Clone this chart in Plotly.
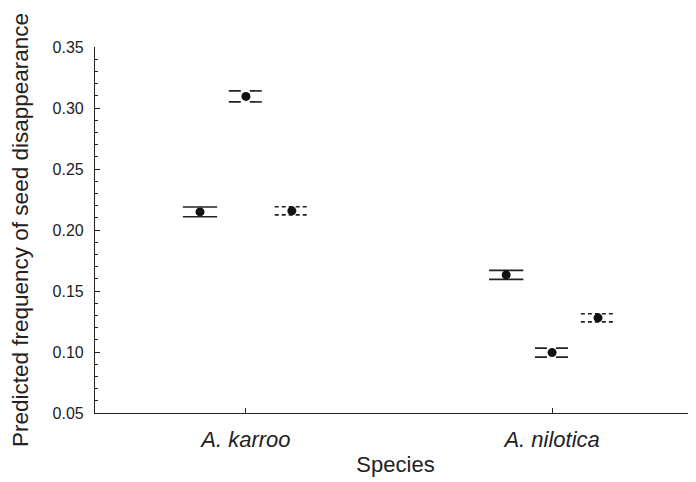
import plotly.graph_objects as go

species = ["A. karroo", "A. nilotica"]
species_pos = [1, 2]
group_offsets = [-0.15, 0.0, 0.15]
group_names = ["Treatment 1", "Treatment 2", "Treatment 3"]
group_dash = ["solid", "12px,9px", "4px,3px"]
means = [
    [0.2148, 0.1632],   # group 1
    [0.3095, 0.0995],   # group 2
    [0.2157, 0.1280],   # group 3
]
errors = [
    [0.0040, 0.0037],
    [0.0045, 0.0037],
    [0.0033, 0.0033],
]
cap_half = 0.056

fig = go.Figure()
for g in range(3):
    xs = [p + group_offsets[g] for p in species_pos]
    cx, cy = [], []
    for x, m, e in zip(xs, means[g], errors[g]):
        for yv in (m + e, m - e):
            cx += [x - cap_half, x + cap_half, None]
            cy += [yv, yv, None]
    fig.add_trace(go.Scatter(x=cx, y=cy, mode="lines",
                             line=dict(color="#222", width=1.6, dash=group_dash[g]),
                             showlegend=False, hoverinfo="skip"))
    fig.add_trace(go.Scatter(x=xs, y=means[g], mode="markers", name=group_names[g],
                             marker=dict(color="#111", size=9),
                             showlegend=False))

fig.update_layout(
    width=688, height=474,
    margin=dict(l=87, r=0, t=39, b=69),
    plot_bgcolor="white", paper_bgcolor="white",
    font=dict(family="Liberation Sans, Arial, sans-serif", color="#222"),
    xaxis=dict(
        range=[0.507, 2.47],
        tickvals=species_pos,
        ticktext=["<i>" + s + "</i>" for s in species],
        ticks="inside", ticklen=5, tickcolor="#222",
        showline=True, linecolor="#222", linewidth=1.2,
        showgrid=False, zeroline=False,
        tickfont=dict(size=22),
        ticklabelstandoff=6,
        title=dict(text="Species", font=dict(size=22), standoff=6),
    ),
    yaxis=dict(
        range=[0.05, 0.35],
        tickvals=[0.05, 0.10, 0.15, 0.20, 0.25, 0.30, 0.35],
        tickformat=".2f",
        ticks="inside", ticklen=5, tickcolor="#222",
        minor=dict(dtick=0.01, ticks="inside", ticklen=3, tickcolor="#222", showgrid=False),
        showline=True, linecolor="#222", linewidth=1.2,
        showgrid=False, zeroline=False,
        tickfont=dict(size=16),
        ticklabelstandoff=7,
        title=dict(text="Predicted frequency of seed disappearance", font=dict(size=22.5), standoff=20),
    ),
)

fig.write_html("out.html")
